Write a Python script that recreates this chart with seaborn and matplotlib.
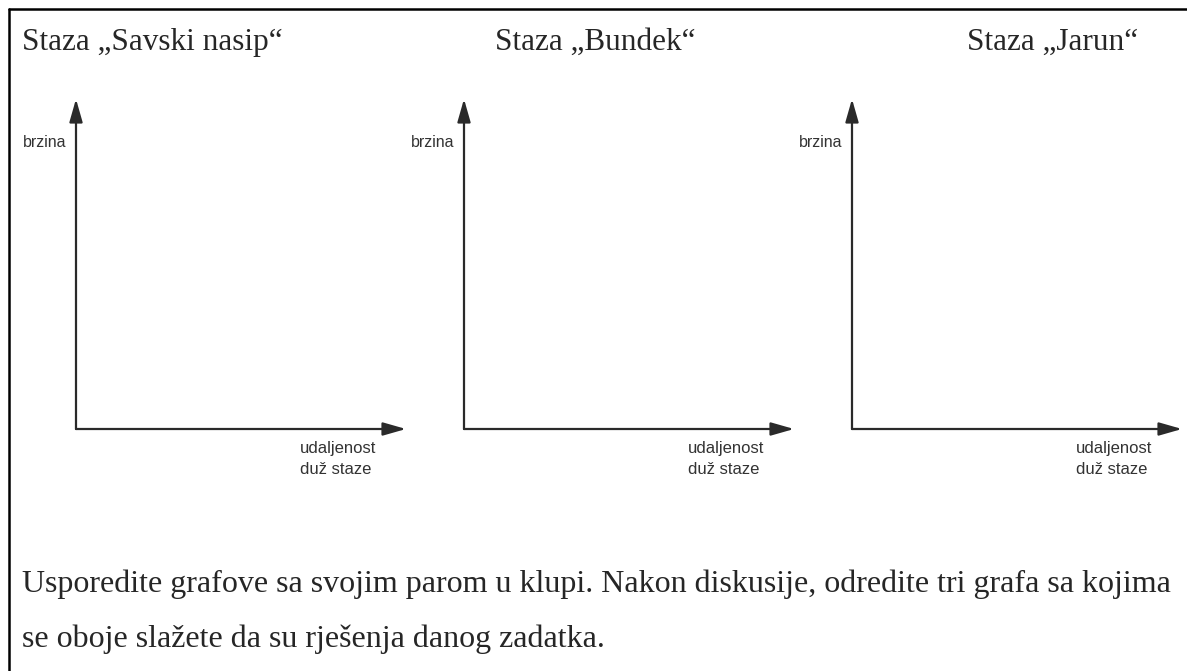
import matplotlib
matplotlib.use("Agg")
import matplotlib.pyplot as plt
import seaborn as sns

# podaci (samo tekst, grafovi su prazni)
staze = ["Savski nasip", "Bundek", "Jarun"]
naslov_x = [22, 495, 967]          # lijevi rub naslova (px)
os_x = [76, 464, 852]              # položaj y-osi (px)
y_oznaka = "brzina"
x_oznaka = "udaljenost\nduž staze"
zadatak = ["Usporedite grafove sa svojim parom u klupi. Nakon diskusije, odredite tri grafa sa kojima",
           "se oboje slažete da su rješenja danog zadatka."]

W, H = 1187, 671
sns.set_style("white")
plt.rcParams['font.family'] = ['Liberation Serif', 'DejaVu Serif']

fig = plt.figure(figsize=(W / 100, H / 100), dpi=100)

def fx(px):
    return px / W

def fy(py):
    return 1 - py / H

# okvir
fig.add_artist(plt.Line2D([fx(9), fx(9)], [fy(9), fy(H + 5)], color='black', lw=1.8, transform=fig.transFigure))
fig.add_artist(plt.Line2D([fx(9), fx(W + 5)], [fy(9), fy(9)], color='black', lw=1.8, transform=fig.transFigure))

duljina = 330
for s, tx, x0 in zip(staze, naslov_x, os_x):
    fig.text(fx(tx), fy(50), "Staza „" + s + "“", fontsize=22.5, ha='left', va='baseline')
    ax = fig.add_axes([fx(x0), fy(429), duljina / W, (429 - 99) / H])
    ax.set_xlim(0, 1)
    ax.set_ylim(0, 1)
    ax.set_xticks([])
    ax.set_yticks([])
    sns.despine(ax=ax, left=True, bottom=True)
    strelica = dict(arrowstyle='-|>,head_length=0.7,head_width=0.2', color='#2a2a2a',
                    lw=1.6, mutation_scale=20, shrinkA=0, shrinkB=0)
    ax.annotate("", xy=(1, 0), xytext=(0, 0), xycoords='axes fraction', arrowprops=strelica)
    ax.annotate("", xy=(0, 1), xytext=(0, 0), xycoords='axes fraction', arrowprops=strelica)
    fig.text(fx(x0 - 10), fy(147), y_oznaka, fontsize=11.5, family=['Liberation Sans'],
             color='#333333', ha='right', va='baseline')
    fig.text(fx(x0 + 224), fy(441), x_oznaka, fontsize=12, family=['Liberation Sans'],
             color='#333333', ha='left', va='top', linespacing=1.5)

fig.text(fx(22), fy(592), zadatak[0], fontsize=23, ha='left', va='baseline')
fig.text(fx(22), fy(647), zadatak[1], fontsize=23, ha='left', va='baseline')

fig.savefig("out.png", dpi=100)
